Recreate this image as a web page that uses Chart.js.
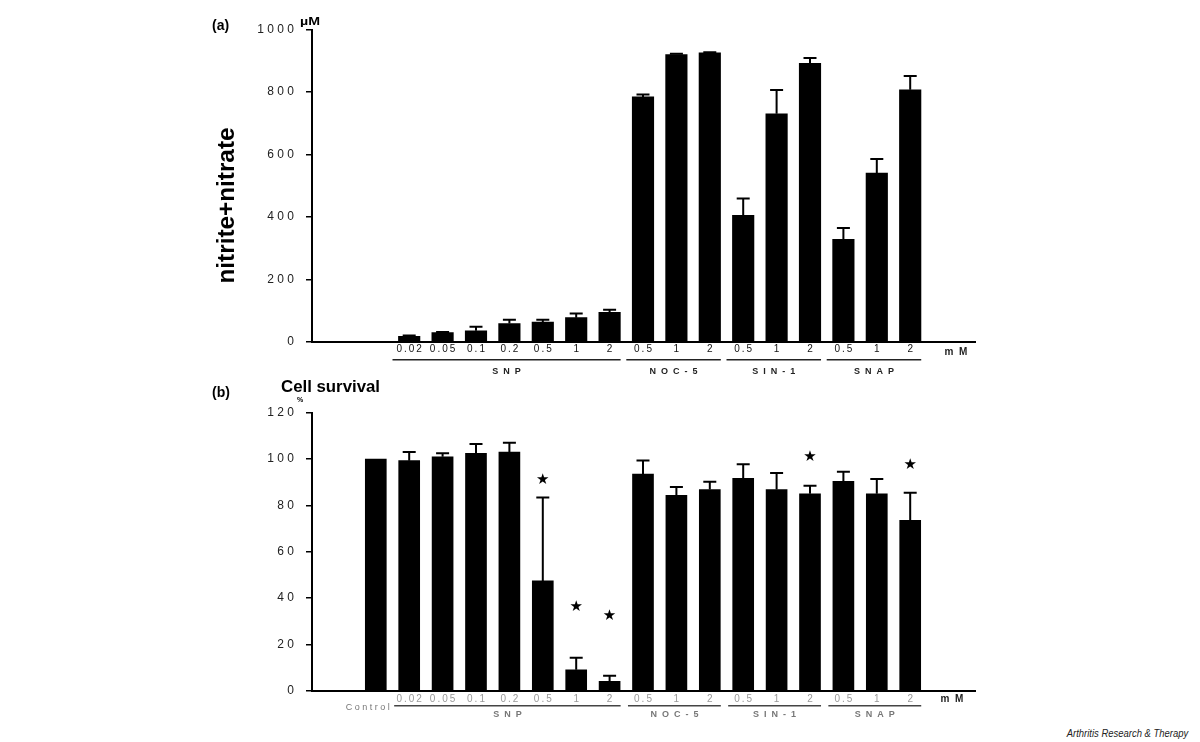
<!DOCTYPE html>
<html>
<head>
<meta charset="utf-8">
<script src="https://cdn.jsdelivr.net/npm/chart.js@4.4.0/dist/chart.umd.min.js"></script>
<style>
  body { margin: 0; background: #fff; width: 1200px; height: 742px; position: relative; overflow: hidden; }
  canvas { position: absolute; left: 0; }
  #chartA { top: 0; }
  #chartB { top: 370px; }
  .source { position: absolute; right: 12px; top: 727px; font: italic 11px "Liberation Sans", Arial, sans-serif;
            color: #222; transform: scaleX(0.86); transform-origin: right top; white-space: nowrap; }
</style>
</head>
<body>
<canvas id="chartA" width="1200" height="385"></canvas>
<canvas id="chartB" width="1200" height="350"></canvas>
<div class="source">Arthritis Research &amp; Therapy</div>
<script>
// categories along the x axis (Control + doses in mM)
const categories = ['Control', '0.02', '0.05', '0.1', '0.2', '0.5', '1', '2',
                    '0.5', '1', '2', '0.5', '1', '2', '0.5', '1', '2'];
const groups = [
  { name: 'SNP',   first: 1,  last: 7 },
  { name: 'NOC-5', first: 8,  last: 10 },
  { name: 'SIN-1', first: 11, last: 13 },
  { name: 'SNAP',  first: 14, last: 16 }
];

// (a) nitrite+nitrate, uM
const nitrite    = [null, 17, 29, 35, 58, 63, 77, 94, 784, 920, 925, 405, 730, 892, 328, 540, 807];
const nitriteErr = [null, 3, 2, 13, 12, 7, 13, 8, 8, 2, 2, 54, 76, 17, 36, 45, 44];
const ticksA = [0, 200, 400, 600, 800, 1000];

// (b) cell survival, %
const survival    = [100, 99.3, 101, 102.5, 103, 47.4, 9, 4, 93.5, 84.3, 86.8, 91.7, 86.8, 85, 90.4, 85, 73.5];
const survivalErr = [0, 3.7, 1.5, 4, 4, 36, 5.2, 2.4, 5.9, 3.6, 3.4, 6, 7.2, 3.5, 4.1, 6.4, 12];
const survivalStar = [null, null, null, null, null, 91, 36, 32, null, null, null, null, null, 101, null, null, 97.5];
const ticksB = [0, 20, 40, 60, 80, 100, 120];

const FONT = '"Liberation Sans", Arial, sans-serif';
Chart.defaults.font.family = FONT;
const spaced = s => String(s).split('').join(' ');
const thin = s => String(s).split('').join('\u2009');

// error bars, stars, group brackets and loose labels
const annot = {
  id: 'annot',
  afterDatasetsDraw(chart, args, o) {
    const ctx = chart.ctx, xs = chart.scales.x, ys = chart.scales.y;
    const base = chart.chartArea.bottom;
    ctx.save();
    ctx.strokeStyle = '#000';
    ctx.lineWidth = 2;
    o.values.forEach((v, i) => {
      if (v == null || !o.errs[i]) return;
      const px = xs.getPixelForValue(i);
      const top = ys.getPixelForValue(v + o.errs[i]);
      ctx.beginPath();
      ctx.moveTo(px, ys.getPixelForValue(v));
      ctx.lineTo(px, top);
      ctx.moveTo(px - 6.5, top);
      ctx.lineTo(px + 6.5, top);
      ctx.stroke();
    });
    if (o.stars) {
      ctx.fillStyle = '#000';
      ctx.font = '15px "DejaVu Sans", sans-serif';
      ctx.textAlign = 'center';
      ctx.textBaseline = 'middle';
      o.stars.forEach((s, i) => {
        if (s != null) ctx.fillText('\u2605', xs.getPixelForValue(i), ys.getPixelForValue(s));
      });
    }
    // group brackets
    ctx.lineWidth = 1.5;
    ctx.strokeStyle = o.lineColor;
    ctx.fillStyle = o.nameColor;
    ctx.font = 'bold 9px ' + FONT;
    ctx.textAlign = 'center';
    ctx.textBaseline = 'middle';
    groups.forEach(g => {
      const x1 = xs.getPixelForValue(g.first - o.padL);
      const x2 = xs.getPixelForValue(g.last + 0.33);
      ctx.beginPath();
      ctx.moveTo(x1, base + o.lineDy);
      ctx.lineTo(x2, base + o.lineDy);
      ctx.stroke();
      ctx.fillText(g.name.split('').join('  '), (x1 + x2) / 2, base + o.nameDy);
    });
    if (o.control) {
      ctx.fillStyle = o.controlColor;
      ctx.font = '9px ' + FONT;
      ctx.fillText(spaced('Control'), xs.getPixelForValue(0) - 8, base + o.controlDy);
    }
    ctx.fillStyle = '#222';
    ctx.font = 'bold 10px ' + FONT;
    ctx.fillText('m  M', o.unitX, base + o.unitDy);
    ctx.restore();
  },
  afterDraw(chart, args, o) {
    const ctx = chart.ctx;
    ctx.save();
    ctx.fillStyle = '#000';
    o.texts.forEach(t => {
      ctx.font = t.font;
      ctx.textAlign = t.align || 'left';
      ctx.textBaseline = 'alphabetic';
      ctx.save();
      ctx.translate(t.x, t.y);
      if (t.rot) ctx.rotate(t.rot);
      if (t.w) { const m = ctx.measureText(t.text).width; ctx.scale(t.w / m, 1); }
      ctx.fillText(t.text, 0, 0);
      ctx.restore();
    });
    ctx.restore();
  }
};

function makeChart(id, values, errs, yTicks, opt) {
  return new Chart(document.getElementById(id), {
    type: 'bar',
    data: {
      datasets: [{
        data: values.map((v, i) => ({ x: i, y: v })),
        backgroundColor: '#000',
        borderWidth: 0,
        barThickness: opt.barW
      }]
    },
    options: {
      responsive: false,
      animation: false,
      layout: { padding: { left: 0, right: 1200 - 975, top: opt.top, bottom: 0 } },
      plugins: {
        legend: { display: false },
        tooltip: { enabled: false },
        annot: Object.assign({ values: values, errs: errs }, opt.annot)
      },
      scales: {
        x: {
          type: 'linear',
          offset: false,
          min: -1.91,
          max: 17.94,
          afterBuildTicks: s => { s.ticks = categories.map((c, i) => ({ value: i })); },
          afterFit: s => { s.height = opt.xH; },
          grid: { display: false, drawTicks: false, tickLength: 0 },
          border: { display: true, color: '#000', width: 2 },
          ticks: {
            autoSkip: false, maxRotation: 0, padding: opt.xPad,
            color: opt.xColor, font: { size: 10 },
            callback: v => (v === 0 ? '' : thin(categories[v]))
          }
        },
        y: {
          min: yTicks[0],
          max: yTicks[yTicks.length - 1],
          afterBuildTicks: s => { s.ticks = yTicks.map(v => ({ value: v })); },
          afterFit: s => { s.width = 312; },
          grid: { display: true, drawOnChartArea: false, drawTicks: true, tickLength: 6, color: '#000', lineWidth: 1.5 },
          border: { display: true, color: '#000', width: 2 },
          ticks: { padding: 12, color: '#222', font: { size: 12 }, callback: v => spaced(v) }
        }
      }
    },
    plugins: [annot]
  });
}

makeChart('chartA', nitrite, nitriteErr, ticksA, {
  barW: 21.5, top: 29.5, xH: 385 - 341.7, xPad: 2, xColor: '#111',
  annot: {
    lineColor: '#222', nameColor: '#222', padL: 0.5,
    lineDy: 18, nameDy: 30, unitX: 956, unitDy: 11,
    texts: [
      { text: '(a)', x: 212, y: 30, font: 'bold 14px ' + FONT },
      { text: '\u00b5M', x: 310, y: 25, font: 'bold 11px ' + FONT, align: 'center', w: 20 },
      { text: 'nitrite+nitrate', x: 234, y: 205.5, font: 'bold 24px ' + FONT, align: 'center', rot: -Math.PI / 2, w: 156 }
    ]
  }
});

makeChart('chartB', survival, survivalErr, ticksB, {
  barW: 21, top: 412.7 - 370, xH: 350 - (690.7 - 370), xPad: 3, xColor: '#999',
  annot: {
    stars: survivalStar,
    lineColor: '#444', nameColor: '#777', padL: 0.45,
    lineDy: 15, nameDy: 24, unitX: 952, unitDy: 9,
    control: true, controlColor: '#777', controlDy: 17,
    texts: [
      { text: '(b)', x: 212, y: 27, font: 'bold 14px ' + FONT },
      { text: 'Cell survival', x: 281, y: 22, font: 'bold 16px ' + FONT, w: 99 },
      { text: '%', x: 300, y: 32, font: 'bold 7px ' + FONT, align: 'center' }
    ]
  }
});
</script>
</body>
</html>
